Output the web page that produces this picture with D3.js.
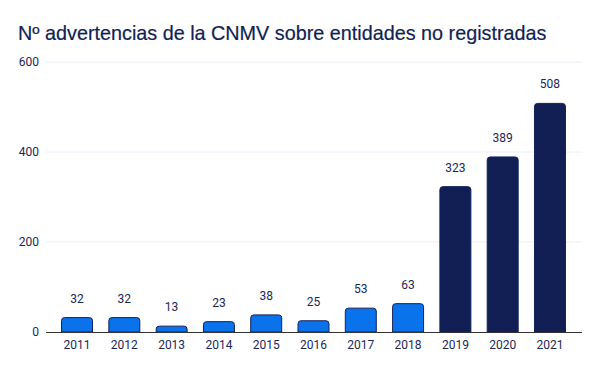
<!DOCTYPE html>
<html>
<head>
<meta charset="utf-8">
<script src="https://cdn.jsdelivr.net/npm/d3@7"></script>
<style>
  body { margin: 0; background: #fff; }
  text { font-family: Roboto, "Noto Sans", sans-serif; }
</style>
</head>
<body>
<svg id="chart"></svg>
<script>
const years = ["2011", "2012", "2013", "2014", "2015", "2016", "2017", "2018", "2019", "2020", "2021"];
const warnings = [32, 32, 13, 23, 38, 25, 53, 63, 323, 389, 508];
const yTicks = [0, 200, 400, 600];

const width = 600;
const height = 371;
const textColor = "#1b2757";

const svg = d3.select("#chart").attr("width", width).attr("height", height);

// title
svg
  .append("text")
  .attr("x", 18)
  .attr("y", 40)
  .attr("font-size", 19.8)
  .style("font-family", "'Liberation Sans', Arial, sans-serif")
  .attr("fill", "#111f54")
  .attr("stroke", "#111f54")
  .attr("stroke-width", 0.2)
  .text("Nº advertencias de la CNMV sobre entidades no registradas");

// Scales
const x = d3.scaleBand().domain(years).range([53.5, 573.5]).paddingInner(0.345).paddingOuter(0.17);
const y = d3.scaleLinear().domain([0, 600]).range([332, 62]);

// grid lines
svg
  .selectAll(".grid")
  .data(yTicks.filter((d) => d > 0))
  .enter()
  .append("line")
  .attr("x1", 46)
  .attr("x2", 582)
  .attr("y1", (d) => y(d))
  .attr("y2", (d) => y(d))
  .attr("stroke", "#e8eefa")
  .attr("stroke-width", 1);

// y axis labels
const yAxis = d3.axisLeft(y).tickValues(yTicks).tickSize(0).tickPadding(0);
svg
  .append("g")
  .attr("transform", "translate(39,0)")
  .call(yAxis)
  .call((g) => g.select(".domain").remove())
  .call((g) =>
    g.selectAll("text").attr("font-size", 12).attr("fill", textColor).attr("font-family", "Roboto, sans-serif")
  );

// bars with rounded tops
const r = 3;
function barPath(d, i) {
  const x0 = x(years[i]);
  const w = x.bandwidth();
  const y0 = y(d);
  const yb = y(0);
  return (
    "M" + x0 + "," + yb +
    "V" + (y0 + r) +
    "Q" + x0 + "," + y0 + " " + (x0 + r) + "," + y0 +
    "H" + (x0 + w - r) +
    "Q" + (x0 + w) + "," + y0 + " " + (x0 + w) + "," + (y0 + r) +
    "V" + yb + "Z"
  );
}

svg
  .selectAll(".bar")
  .data(warnings)
  .enter()
  .append("path")
  .attr("class", "bar")
  .attr("d", barPath)
  .attr("fill", (d, i) => (+years[i] >= 2019 ? "#111f54" : "#0a73eb"))
  .attr("stroke", "#13215a")
  .attr("stroke-width", 1);

// value labels
svg
  .selectAll(".val")
  .data(warnings)
  .enter()
  .append("text")
  .attr("x", (d, i) => x(years[i]) + x.bandwidth() / 2)
  .attr("y", (d) => y(d) - 15)
  .attr("text-anchor", "middle")
  .attr("font-size", 12)
  .attr("fill", textColor)
  .text((d) => d);

// x axis
const xAxis = d3.axisBottom(x).tickSize(0).tickPadding(8);
svg
  .append("g")
  .attr("transform", "translate(0,332)")
  .call(xAxis)
  .call((g) => g.select(".domain").remove())
  .call((g) =>
    g.selectAll("text").attr("font-size", 12).attr("fill", textColor).attr("font-family", "Roboto, sans-serif")
  );

svg
  .append("line")
  .attr("x1", 46)
  .attr("x2", 582)
  .attr("y1", 332.5)
  .attr("y2", 332.5)
  .attr("stroke", "#333")
  .attr("stroke-width", 1.2);
</script>
</body>
</html>
